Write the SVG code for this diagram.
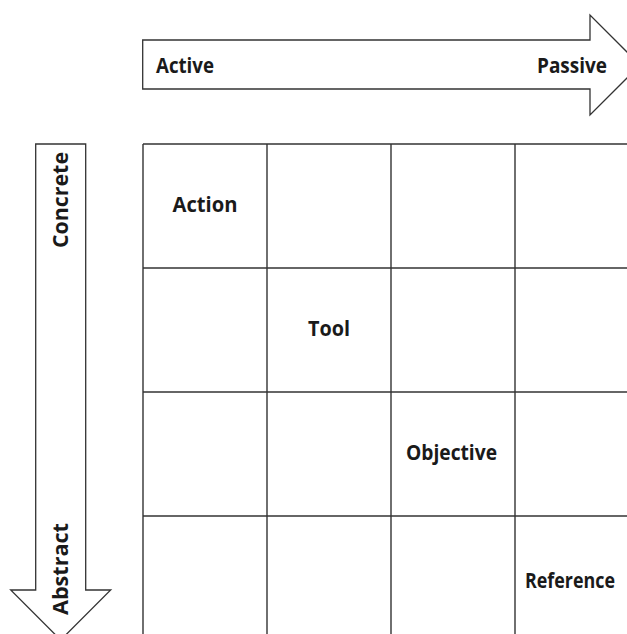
<svg xmlns="http://www.w3.org/2000/svg" width="627" height="634" viewBox="0 0 627 634">
  <style>
    .arrow { fill: #ffffff; stroke: #333333; stroke-width: 1.3; stroke-linejoin: miter; }
    .grid line { stroke: #333333; stroke-width: 1.4; }
    .lbl { font-family: "Open Sans", "Liberation Sans", sans-serif; font-weight: 700; font-size: 22px; fill: #1a1a1a; }
  </style>
  <rect width="627" height="634" fill="#ffffff"/>

  <!-- horizontal axis arrow: Active -> Passive -->
  <g id="axis-horizontal">
    <path class="arrow" d="M142.7,40 H590 V15 L640,65 L590,115 V89 H142.7 Z"/>
    <text class="lbl" x="156" y="72.5" textLength="58" lengthAdjust="spacingAndGlyphs">Active</text>
    <text class="lbl" x="537" y="72.5" textLength="70" lengthAdjust="spacingAndGlyphs">Passive</text>
  </g>

  <!-- vertical axis arrow: Concrete -> Abstract -->
  <g id="axis-vertical">
    <path class="arrow" d="M35.7,144 H85.7 V590 H110.7 L60.7,640 L10.7,590 H35.7 Z"/>
    <text class="lbl" transform="translate(67.5,248) rotate(-90)" textLength="96" lengthAdjust="spacingAndGlyphs">Concrete</text>
    <text class="lbl" transform="translate(67.5,615) rotate(-90)" textLength="92" lengthAdjust="spacingAndGlyphs">Abstract</text>
  </g>

  <!-- 4x4 grid -->
  <g id="grid" class="grid">
    <line x1="143" y1="144" x2="640" y2="144"/>
    <line x1="143" y1="268" x2="640" y2="268"/>
    <line x1="143" y1="392" x2="640" y2="392"/>
    <line x1="143" y1="516" x2="640" y2="516"/>
    <line x1="143" y1="144" x2="143" y2="640"/>
    <line x1="267" y1="144" x2="267" y2="640"/>
    <line x1="391" y1="144" x2="391" y2="640"/>
    <line x1="515" y1="144" x2="515" y2="640"/>
  </g>

  <g id="cell-action">
    <text class="lbl" x="172.5" y="212" textLength="65" lengthAdjust="spacingAndGlyphs">Action</text>
  </g>
  <g id="cell-tool">
    <text class="lbl" x="308" y="336" textLength="42" lengthAdjust="spacingAndGlyphs">Tool</text>
  </g>
  <g id="cell-objective">
    <text class="lbl" x="406" y="459.5" textLength="91" lengthAdjust="spacingAndGlyphs">Objective</text>
  </g>
  <g id="cell-reference">
    <text class="lbl" x="525" y="588" textLength="90" lengthAdjust="spacingAndGlyphs">Reference</text>
  </g>
</svg>
